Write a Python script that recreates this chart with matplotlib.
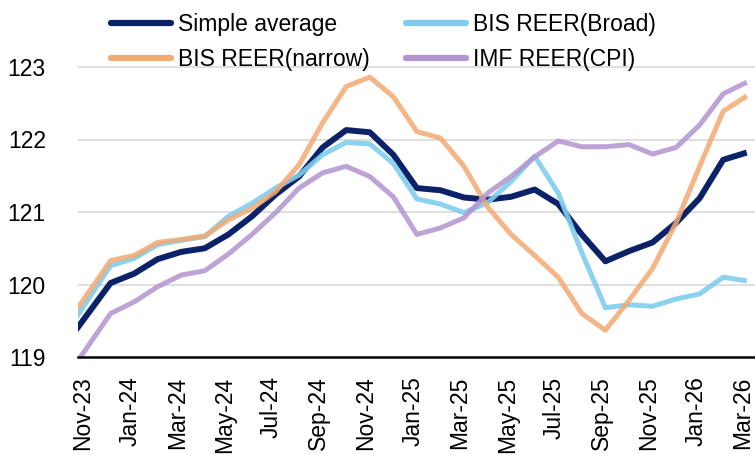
import matplotlib
matplotlib.use("Agg")
import matplotlib.pyplot as plt
import matplotlib.transforms as mtransforms
import numpy as np

plt.rcParams["font.family"] = ["Liberation Sans", "DejaVu Sans"]

# Monthly series; Oct-23 sits just left of the visible range and is clipped.
months = [
    "Oct-23", "Nov-23", "Dec-23", "Jan-24", "Feb-24", "Mar-24", "Apr-24", "May-24",
    "Jun-24", "Jul-24", "Aug-24", "Sep-24", "Oct-24", "Nov-24", "Dec-24", "Jan-25",
    "Feb-25", "Mar-25", "Apr-25", "May-25", "Jun-25", "Jul-25", "Aug-25", "Sep-25",
    "Oct-25", "Nov-25", "Dec-25", "Jan-26", "Feb-26", "Mar-26",
]

simple_average = [
    119.14, 119.58, 120.02, 120.15, 120.35, 120.45, 120.50, 120.69, 120.94, 121.24,
    121.49, 121.89, 122.13, 122.10, 121.79, 121.33, 121.30, 121.20, 121.17, 121.21,
    121.31, 121.11, 120.69, 120.32, 120.46, 120.58, 120.85, 121.19, 121.72, 121.82,
]
bis_broad = [
    119.28, 119.77, 120.26, 120.36, 120.55, 120.61, 120.66, 120.94, 121.12, 121.33,
    121.51, 121.79, 121.96, 121.94, 121.67, 121.18, 121.11, 120.99, 121.13, 121.42,
    121.77, 121.26, 120.44, 119.68, 119.72, 119.70, 119.80, 119.87, 120.10, 120.05,
]
bis_narrow = [
    119.39, 119.86, 120.33, 120.40, 120.58, 120.62, 120.67, 120.89, 121.05, 121.28,
    121.65, 122.23, 122.73, 122.86, 122.59, 122.11, 122.02, 121.63, 121.07, 120.69,
    120.40, 120.10, 119.60, 119.37, 119.78, 120.22, 120.85, 121.63, 122.39, 122.60,
]
imf_cpi = [
    118.66, 119.13, 119.60, 119.76, 119.97, 120.13, 120.19, 120.42, 120.69, 120.99,
    121.33, 121.54, 121.63, 121.49, 121.21, 120.69, 120.78, 120.92, 121.26, 121.49,
    121.76, 121.98, 121.90, 121.90, 121.93, 121.80, 121.89, 122.20, 122.63, 122.79,
]

tick_labels = months[1::2]
y_ticks = [119, 120, 121, 122, 123]

NAVY = "#0B2268"
LIGHT_BLUE = "#7FCDEE"
ORANGE = "#F3A972"
PURPLE = "#B394CF"

W, H = 755, 455
fig = plt.figure(figsize=(W / 100, H / 100), dpi=100)
ax = fig.add_axes([77.7 / W, (H - 357) / H, (W - 77.7) / W, 357 / H])

x = np.arange(len(months)) - 1  # Nov-23 -> 0

ax.plot(x, simple_average, color=NAVY, lw=4.3, solid_capstyle="butt", label="Simple average", zorder=3)
ax.plot(x, bis_broad, color=LIGHT_BLUE, lw=3.6, alpha=0.9, solid_capstyle="butt", label="BIS REER(Broad)", zorder=4)
ax.plot(x, bis_narrow, color=ORANGE, lw=3.6, alpha=0.85, solid_capstyle="butt", label="BIS REER(narrow)", zorder=5)
ax.plot(x, imf_cpi, color=PURPLE, lw=3.6, alpha=0.85, solid_capstyle="butt", label="IMF REER(CPI)", zorder=6)

ax.set_xlim(-0.395, 28.35)
ax.set_ylim(119, 119 + 357 / 72.5)

ax.set_yticks(y_ticks)
ax.set_yticklabels([str(v) for v in y_ticks], fontsize=16.5)
ax.set_xticks(np.arange(0, len(months) - 1, 2))
ax.set_xticklabels(tick_labels, rotation=90, fontsize=16.5)
ax.tick_params(axis="both", length=0)
ax.tick_params(axis="y", pad=23)
ax.tick_params(axis="x", pad=14)

# x labels sit a few pixels left of their data points in the reference
shift = mtransforms.ScaledTranslation(-4 / 100, 0, fig.dpi_scale_trans)
for lbl in ax.get_xticklabels():
    lbl.set_transform(lbl.get_transform() + shift)

for v in y_ticks[1:]:
    ax.axhline(v, color="#D9D9D9", lw=1.2, zorder=1)

for side in ["top", "right", "left"]:
    ax.spines[side].set_visible(False)
ax.spines["bottom"].set_color("black")
ax.spines["bottom"].set_linewidth(1.8)
ax.spines["bottom"].set_zorder(7)

handles, labels = ax.get_legend_handles_labels()
order = [0, 2, 1, 3]
leg = fig.legend(
    [handles[i] for i in order],
    [labels[i] for i in order],
    loc="upper left",
    bbox_to_anchor=(100 / W, 1 - 2 / H),
    ncol=2,
    frameon=False,
    fontsize=16.5,
    handlelength=2.6,
    handletextpad=0.3,
    columnspacing=1.6,
    labelspacing=0.5,
    borderpad=0,
)
for line in leg.get_lines():
    line.set_linewidth(4.5)
    line.set_solid_capstyle("round")
    line.set_alpha(1)

fig.savefig("out.png", dpi=100)
